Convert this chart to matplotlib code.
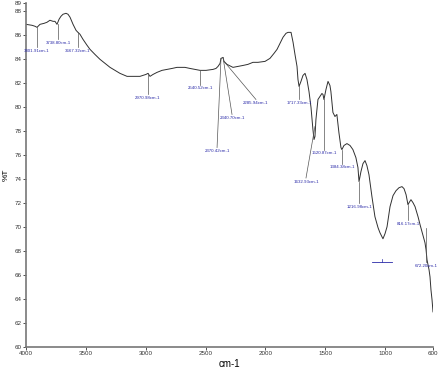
import matplotlib
matplotlib.use("Agg")
import matplotlib.pyplot as plt

plt.rcParams['font.family'] = ['Liberation Sans Narrow', 'Liberation Sans', 'DejaVu Sans']

# spectrum
wavenumber = [4000, 3950, 3925, 3908, 3883, 3850, 3825, 3800, 3774, 3758, 3741, 3724, 3708, 3691,
              3666, 3649, 3632, 3607, 3582, 3566, 3549, 3524, 3490, 3465, 3424, 3382, 3340, 3298,
              3256, 3215, 3156, 3106, 3048, 3023, 2998, 2981, 2964, 2939, 2906, 2864, 2822, 2780,
              2739, 2672, 2630, 2588, 2546, 2496, 2438, 2413, 2396, 2379, 2371, 2354, 2346, 2321,
              2271, 2229, 2187, 2146, 2104, 2062, 2003, 1962, 1928, 1903, 1878, 1853, 1828, 1811,
              1786, 1769, 1753, 1736, 1728, 1719, 1703, 1686, 1669, 1653, 1636, 1619, 1603, 1594,
              1586, 1578, 1561, 1544, 1528, 1519, 1511, 1494, 1477, 1461, 1453, 1436, 1419, 1403,
              1386, 1369, 1361, 1344, 1319, 1293, 1269, 1244, 1227, 1218, 1202, 1185, 1168, 1152,
              1135, 1110, 1085, 1059, 1043, 1018, 1001, 984, 959, 934, 909, 884, 859, 842, 825,
              809, 800, 784, 767, 750, 725, 708, 683, 667, 658, 650, 633, 625, 617, 608, 600]
transmittance = [86.92, 86.84, 86.76, 86.67, 86.92, 87.0, 87.09, 87.26, 87.17, 87.17, 86.92, 87.34,
                 87.59, 87.76, 87.84, 87.76, 87.51, 86.92, 86.42, 86.25, 86.09, 85.67, 85.17, 84.83,
                 84.41, 84.0, 83.66, 83.33, 83.08, 82.83, 82.58, 82.58, 82.58, 82.66, 82.74, 82.83,
                 82.58, 82.74, 82.91, 83.08, 83.16, 83.24, 83.33, 83.33, 83.24, 83.16, 83.08, 83.08,
                 83.16, 83.24, 83.41, 83.66, 84.08, 84.16, 83.83, 83.58, 83.33, 83.41, 83.49, 83.58,
                 83.75, 83.75, 83.83, 84.08, 84.50, 84.83, 85.33, 85.84, 86.17, 86.25, 86.25, 85.42,
                 84.41, 83.41, 82.32, 81.74, 82.16, 82.66, 82.83, 82.32, 81.32, 79.98, 78.14, 77.31,
                 77.56, 78.98, 80.65, 80.90, 81.15, 81.07, 80.65, 81.49, 82.16, 81.82, 81.32, 79.57,
                 79.23, 79.40, 77.89, 76.64, 76.47, 76.81, 76.97, 76.81, 76.47, 75.80, 74.97, 73.80,
                 74.63, 75.30, 75.55, 75.13, 74.38, 72.54, 70.87, 69.95, 69.53, 69.03, 69.45, 70.03,
                 71.71, 72.63, 73.04, 73.29, 73.38, 73.21, 72.71, 71.87, 72.04, 72.29, 72.04, 71.71,
                 70.87, 70.20, 69.28, 68.70, 68.11, 67.27, 66.44, 65.85, 64.77, 63.93, 62.93]

# peak labels: text, point on curve (wn, %T), label position (wn, %T)
peak_labels = ["3801.91cm-1", "3738.80cm-1", "3667.32cm-1", "2970.98cm-1", "2540.52cm-1",
               "2370.42cm-1", "2340.70cm-1", "2285.94cm-1", "1717.33cm-1", "1632.93cm-1",
               "1520.87cm-1", "1384.38cm-1", "1216.98cm-1", "816.17cm-1", "672.20cm-1"]
peak_wn = [3908, 3733, 3566, 2981, 2546, 2371, 2354, 2346, 1719, 1586, 1511, 1361, 1218, 809, 658]
peak_t = [86.67, 86.92, 86.25, 82.83, 83.08, 84.08, 84.16, 83.83, 81.74, 78.4, 80.65, 76.47, 73.80, 71.87, 69.95]
label_wn = [3908, 3733, 3566, 2981, 2546, 2404, 2279, 2079, 1719, 1661, 1511, 1361, 1218, 809, 658]
label_t = [85.0, 85.67, 85.0, 81.07, 81.9, 76.64, 79.4, 80.65, 80.65, 74.1, 76.47, 75.3, 72.0, 70.6, 67.1]

fig = plt.figure(figsize=(4.39, 3.77), dpi=100)
ax = fig.add_axes([26 / 439, 1 - 347 / 377, 407 / 439, 344 / 377])

ax.plot(wavenumber, transmittance, color="#303030", lw=0.7)

for txt, px, py, lx, ly in zip(peak_labels, peak_wn, peak_t, label_wn, label_t):
    ax.plot([px, lx], [py, ly], color="#555555", lw=0.5)
    ax.text(lx, ly - 0.15, txt, ha="center", va="top", fontsize=3.2, color="#2a2aa8")

# small stray marker near 1000
ax.plot([1110, 943], [67.1, 67.1], color="#2a2aa8", lw=0.6)
ax.plot([1026, 1026], [67.1, 67.35], color="#2a2aa8", lw=0.5)

ax.set_xlim(4000, 600)
ax.set_ylim(60, 88.7)
ax.set_xticks([4000, 3500, 3000, 2500, 2000, 1500, 1000, 600])
yt = list(range(60, 90, 2)) + [88.7]
ax.set_yticks(yt)
ax.set_yticklabels([str(v) for v in range(60, 90, 2)] + ["89"])
ax.tick_params(labelsize=4.5, length=2, width=0.6, colors="#333333", pad=1)

for side in ["top", "right"]:
    ax.spines[side].set_visible(False)
for side in ["left", "bottom"]:
    ax.spines[side].set_color("#777777")
    ax.spines[side].set_linewidth(1.2)

ax.set_xlabel("cm-1", fontsize=7, labelpad=2)
ax.set_ylabel("%T", fontsize=6, labelpad=4)

fig.savefig("out.png", dpi=100)
